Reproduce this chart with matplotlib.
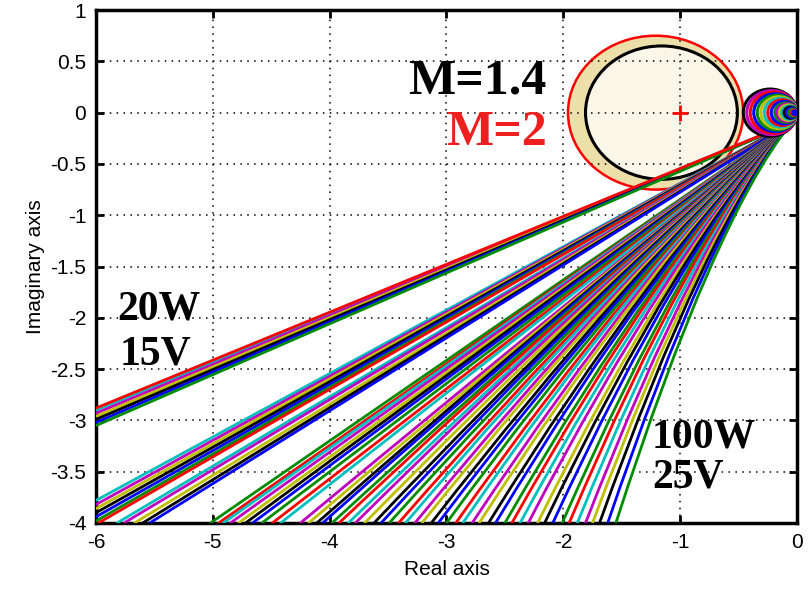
import numpy as np
import matplotlib
matplotlib.use("Agg")
from matplotlib import pyplot as plt
from matplotlib.path import Path
from matplotlib.patches import PathPatch, Circle

plt.rcParams['axes.unicode_minus'] = False
plt.rcParams['font.family'] = ['Liberation Sans', 'DejaVu Sans']

# matlab-ish colour order
cols = ['b', 'g', 'r', 'c', 'm', 'y', 'k']
cmap = {'b': (0, 0, 1), 'g': (0, 0.55, 0), 'r': (1, 0, 0), 'c': (0, 0.75, 0.75),
        'm': (0.75, 0, 0.75), 'y': (0.75, 0.75, 0), 'k': (0, 0, 0)}

# common start of the low-frequency branches
start = (-0.05, -0.1)

# group 20W/15V : ends on the left border
a_end_x = [-6, -6, -6, -6, -6, -6, -6]
a_end_y = [-2.90, -2.93, -2.96, -2.99, -3.02, -3.05, -2.88]

# second group : left border / bottom near -6
b_end_x = [-6, -6, -6, -6, -6, -6, -5.98, -5.82, -5.76, -5.67, -5.60, -5.54]
b_end_y = [-3.78, -3.82, -3.86, -3.90, -3.94, -3.98, -4, -4, -4, -4, -4, -4]

# the big fan, ends at the bottom border (y=-4)
c_end_x = [-5.02, -4.95, -4.91, -4.85, -4.78, -4.72, -4.66, -4.58, -4.49, -4.42,
           -4.25, -4.18, -4.11, -4.06, -3.98, -3.92, -3.84, -3.78, -3.70, -3.62,
           -3.56, -3.49, -3.41, -3.35, -3.27, -3.21, -3.13, -3.07, -3.00, -2.92,
           -2.86, -2.78, -2.72, -2.64, -2.58, -2.50, -2.44, -2.37, -2.30, -2.22,
           -2.16, -2.09, -2.01, -1.95, -1.88, -1.81, -1.75, -1.69, -1.62, -1.55]

# small high-frequency loops near the origin (diameters)
ring_d = [0.46, 0.43, 0.40, 0.37, 0.34, 0.31, 0.28, 0.25, 0.22, 0.19,
          0.17, 0.15, 0.13, 0.11, 0.09, 0.07, 0.05, 0.035]
ring_c = ['k', 'm', 'r', 'b', 'g', 'y', 'c', 'r', 'b', 'g', 'm', 'y', 'c', 'k', 'b', 'g', 'r', 'b']

# M circles (center, radius)
m2_c, m2_r = -1.21, 0.75
m14_c, m14_r = -1.16, 0.65

xt = [-6, -5, -4, -3, -2, -1, 0]
yt = [1, 0.5, 0, -0.5, -1, -1.5, -2, -2.5, -3, -3.5, -4]
yt_lab = ['1', '0.5', '0', '-0.5', '-1', '-1.5', '-2', '-2.5', '-3', '-3.5', '-4']


def knee(S, E, s0, s1):
    if abs(s0 - s1) < 1e-6:
        return ((S[0] + E[0]) / 2, (S[1] + E[1]) / 2)
    x = (E[1] - S[1] + s0 * S[0] - s1 * E[0]) / (s0 - s1)
    return (x, S[1] + s0 * (x - S[0]))


def branch(ax, E, col, a=1.0, b=1.0):
    chord = (E[1] - start[1]) / (E[0] - start[0])
    C = knee(start, E, chord * a, chord * b)
    p = Path([start, C, E], [Path.MOVETO, Path.CURVE3, Path.CURVE3])
    ax.add_patch(PathPatch(p, fill=False, edgecolor=cmap[col], lw=2.0, zorder=3,
                           capstyle='round', joinstyle='round'))


fig = plt.figure(figsize=(8.11, 5.92), dpi=100)
ax = fig.add_axes([0.1184, 0.1166, 0.8643, 0.8664])

# M circles
ax.add_patch(Circle((m2_c, 0), m2_r, facecolor='#ECDFAA', edgecolor='red', lw=1.8, zorder=1))
ax.add_patch(Circle((m14_c, 0), m14_r, facecolor='#FAF6E8', edgecolor='black', lw=2.2, zorder=1.1))
ax.plot([-1], [0], marker='+', color='red', ms=12, mew=2, zorder=4)

k = 3
for i in range(len(a_end_x)):
    branch(ax, (a_end_x[i], a_end_y[i]), cols[k % 7])
    k += 1
for i in range(len(b_end_x)):
    branch(ax, (b_end_x[i], b_end_y[i]), cols[k % 7])
    k += 1
for i in range(len(c_end_x)):
    xe = c_end_x[i]
    f = min(max((xe + 4.4) / 2.85, 0), 1)
    branch(ax, (xe, -4), cols[k % 7], a=1 - 0.45 * f, b=1 + 0.36 * f)
    k += 1

for d, c in zip(ring_d, ring_c):
    ax.add_patch(Circle((-d / 2, 0), d / 2, fill=False, edgecolor=cmap[c], lw=2.2, zorder=5))

ax.text(-3.33, 0.19, 'M=1.4', fontsize=36, fontweight='bold', family='Liberation Serif', color='black', zorder=6)
ax.text(-3.0, -0.32, 'M=2', fontsize=36, fontweight='bold', family='Liberation Serif', color=(0.93, 0.12, 0.12), zorder=6)
ax.text(-5.82, -2.02, '20W', fontsize=30, fontweight='bold', family='Liberation Serif', zorder=6)
ax.text(-5.80, -2.46, '15V', fontsize=30, fontweight='bold', family='Liberation Serif', zorder=6)
ax.text(-1.24, -3.26, '100W', fontsize=30, fontweight='bold', family='Liberation Serif', zorder=6)
ax.text(-1.24, -3.65, '25V', fontsize=30, fontweight='bold', family='Liberation Serif', zorder=6)

ax.set_xlim(-6, 0)
ax.set_ylim(-4, 1)
ax.set_xticks(xt)
ax.set_xticklabels([str(v) for v in xt])
ax.set_yticks(yt)
ax.set_yticklabels(yt_lab)
ax.grid(True, color='black', linestyle=(0, (1, 3.5)), linewidth=1.1)
ax.tick_params(direction='in', length=6, width=2, labelsize=15, pad=7,
               top=True, right=True)
for s in ax.spines.values():
    s.set_linewidth(2.5)
ax.set_xlabel('Real axis', fontsize=15, labelpad=6)
ax.set_ylabel('Imaginary axis', fontsize=15, labelpad=4)

fig.savefig('out.png', dpi=100)
